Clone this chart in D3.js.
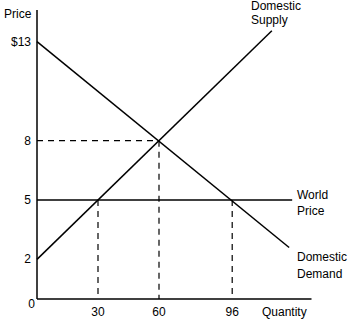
<!DOCTYPE html>
<html>
<head>
<meta charset="utf-8">
<script src="https://cdn.jsdelivr.net/npm/d3@7"></script>
<style>
  body { margin: 0; background: #fff; }
  text { font-family: "Liberation Sans", Arial, sans-serif; font-size: 12px; fill: #000; }
</style>
</head>
<body>
<div id="chart"></div>
<script>
/* DATA */
const supply = [[0, 2], [115.5, 13.55]];
const demand = [[0, 13], [124, 2.6]];
const worldPrice = 5;
const worldEnd = 125.5;
const xTicks = [30, 60, 96];
const yTicks = [2, 5, 8, 13];
const yTickLabels = ["2", "5", "8", "$13"];
const guides = [[30, 5], [60, 8], [96, 5]];

/* SVG */
const width = 353, height = 321;
const svg = d3.select("#chart").append("svg")
    .attr("width", width)
    .attr("height", height);

/* SCALES */
const xScale = d3.scaleLinear().domain([0, 135]).range([37, 311.5]);
const yScale = d3.scaleLinear().domain([0, 14.6]).range([299, 10]);

const line = d3.line()
    .x(function(d) { return xScale(d[0]); })
    .y(function(d) { return yScale(d[1]); });

/* DASHED GUIDES */
guides.forEach(function(g) {
    svg.append("line")
        .attr("x1", xScale(g[0])).attr("x2", xScale(g[0]))
        .attr("y1", yScale(g[1])).attr("y2", yScale(0))
        .attr("stroke", "#000").attr("stroke-width", 1.2)
        .attr("stroke-dasharray", "6,5");
});
svg.append("line")
    .attr("x1", xScale(0)).attr("x2", xScale(60))
    .attr("y1", yScale(8)).attr("y2", yScale(8))
    .attr("stroke", "#000").attr("stroke-width", 1.2)
    .attr("stroke-dasharray", "6,5");

/* AXES */
svg.append("line")
    .attr("x1", xScale(0)).attr("x2", xScale(0))
    .attr("y1", yScale(14.6)).attr("y2", yScale(0))
    .attr("stroke", "#000").attr("stroke-width", 1.5);
svg.append("line")
    .attr("x1", xScale(0)).attr("x2", xScale(135))
    .attr("y1", yScale(0)).attr("y2", yScale(0))
    .attr("stroke", "#000").attr("stroke-width", 1.5);

/* CURVES */
svg.append("path").datum(supply).attr("d", line)
    .attr("fill", "none").attr("stroke", "#000").attr("stroke-width", 1.5);
svg.append("path").datum(demand).attr("d", line)
    .attr("fill", "none").attr("stroke", "#000").attr("stroke-width", 1.5);
svg.append("line")
    .attr("x1", xScale(0)).attr("x2", xScale(worldEnd))
    .attr("y1", yScale(worldPrice)).attr("y2", yScale(worldPrice))
    .attr("stroke", "#000").attr("stroke-width", 1.5);

/* TICK LABELS */
svg.selectAll(".ytick").data(yTicks).enter().append("text")
    .attr("x", 31)
    .attr("y", function(d) { return yScale(d) + 4; })
    .attr("text-anchor", "end")
    .text(function(d, i) { return yTickLabels[i]; });

svg.selectAll(".xtick").data(xTicks).enter().append("text")
    .attr("x", function(d) { return xScale(d); })
    .attr("y", 316)
    .attr("text-anchor", "middle")
    .text(function(d) { return d; });

svg.append("text").attr("x", 35).attr("y", 308).attr("text-anchor", "end").text("0");

/* AXIS + CURVE LABELS */
svg.append("text").attr("x", 4).attr("y", 18).text("Price");
svg.append("text").attr("x", 262).attr("y", 316).text("Quantity");
svg.append("text").attr("x", 251).attr("y", 10).text("Domestic");
svg.append("text").attr("x", 251).attr("y", 24).text("Supply");
svg.append("text").attr("x", 297).attr("y", 199).text("World");
svg.append("text").attr("x", 297).attr("y", 215).text("Price");
svg.append("text").attr("x", 297).attr("y", 261).text("Domestic");
svg.append("text").attr("x", 297).attr("y", 278).text("Demand");
</script>
</body>
</html>
